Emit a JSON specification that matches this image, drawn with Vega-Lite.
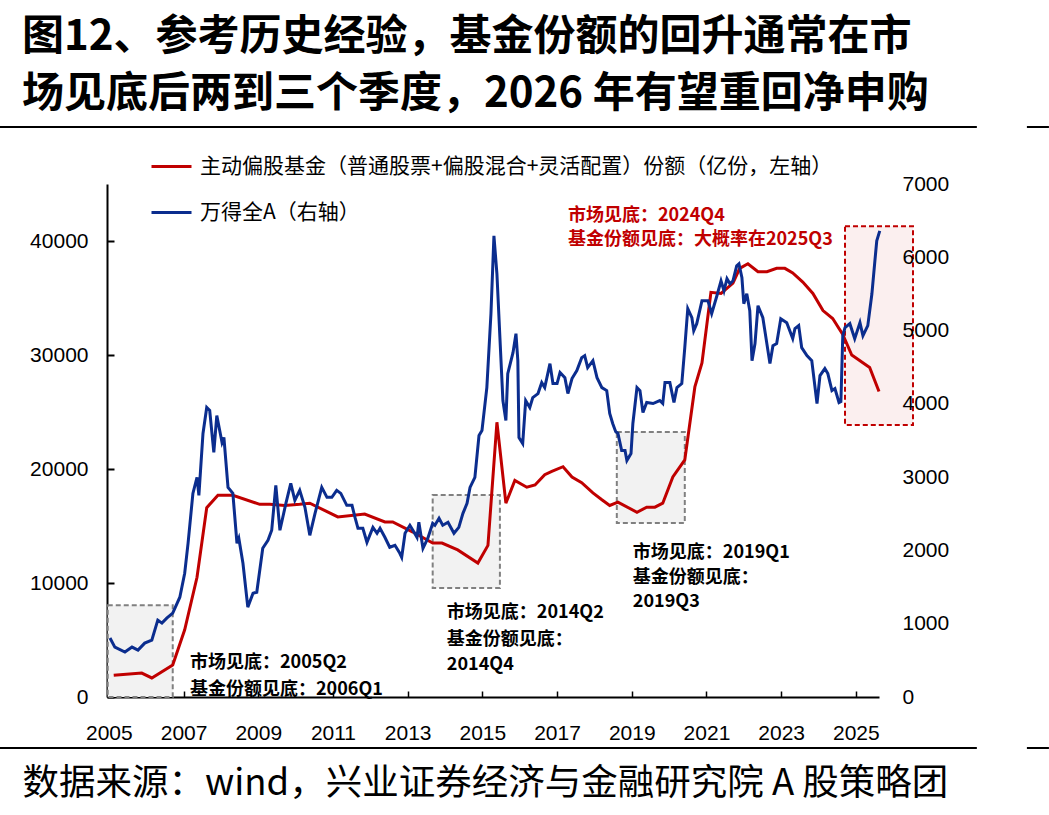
{
  "$schema": "https://vega.github.io/schema/vega-lite/v6.json",
  "width": 772,
  "height": 513,
  "autosize": {"type": "none"},
  "padding": {"left": 107, "top": 184, "right": 170, "bottom": 118},
  "background": "white",
  "config": {
    "view": {"stroke": null},
    "font": "Noto Sans CJK SC",
    "axis": {"grid": false, "labelColor": "black", "labelFont": "Liberation Sans", "labelFontSize": 21, "labelFlush": false, "labelOverlap": false}
  },
  "title": {
    "text": ["图12、参考历史经验，基金份额的回升通常在市", "场见底后两到三个季度，2026 年有望重回净申购"],
    "anchor": "start",
    "frame": "group",
    "font": "Noto Sans CJK SC",
    "fontSize": 42,
    "fontWeight": "bold",
    "lineHeight": 57,
    "color": "black",
    "dx": -85,
    "offset": 10
  },
  "datasets": {
    "fund": [
      {"t": 2005.13, "v": 1900}, {"t": 2005.88, "v": 2100}, {"t": 2006.15, "v": 1670}, {"t": 2006.71, "v": 2800},
      {"t": 2007.03, "v": 5900}, {"t": 2007.36, "v": 10500}, {"t": 2007.62, "v": 16600}, {"t": 2007.92, "v": 17700},
      {"t": 2008.32, "v": 17700}, {"t": 2009.04, "v": 16900}, {"t": 2009.31, "v": 16900}, {"t": 2009.71, "v": 16800},
      {"t": 2010.11, "v": 16900}, {"t": 2010.38, "v": 17000}, {"t": 2011.13, "v": 15800}, {"t": 2011.85, "v": 16050},
      {"t": 2012.39, "v": 15350}, {"t": 2012.6, "v": 15350}, {"t": 2013.14, "v": 14470}, {"t": 2013.67, "v": 13500},
      {"t": 2013.92, "v": 13500}, {"t": 2014.34, "v": 12900}, {"t": 2014.88, "v": 11750}, {"t": 2015.15, "v": 13300},
      {"t": 2015.39, "v": 24100}, {"t": 2015.63, "v": 17000}, {"t": 2015.87, "v": 19000}, {"t": 2016.19, "v": 18400},
      {"t": 2016.41, "v": 18600}, {"t": 2016.67, "v": 19500}, {"t": 2016.86, "v": 19800}, {"t": 2017.16, "v": 20200},
      {"t": 2017.4, "v": 19300}, {"t": 2017.66, "v": 18800}, {"t": 2017.96, "v": 17900}, {"t": 2018.2, "v": 17300},
      {"t": 2018.41, "v": 16800}, {"t": 2018.63, "v": 17100}, {"t": 2019.14, "v": 16200}, {"t": 2019.4, "v": 16650},
      {"t": 2019.62, "v": 16650}, {"t": 2019.83, "v": 17000}, {"t": 2020.1, "v": 19300}, {"t": 2020.42, "v": 20800},
      {"t": 2020.69, "v": 27200}, {"t": 2020.88, "v": 29300}, {"t": 2021.12, "v": 35500}, {"t": 2021.39, "v": 35400},
      {"t": 2021.71, "v": 36300}, {"t": 2021.89, "v": 37600}, {"t": 2022.11, "v": 38000}, {"t": 2022.38, "v": 37300},
      {"t": 2022.62, "v": 37300}, {"t": 2022.88, "v": 37600}, {"t": 2023.1, "v": 37600}, {"t": 2023.31, "v": 37200},
      {"t": 2023.58, "v": 36400}, {"t": 2023.85, "v": 35400}, {"t": 2024.12, "v": 33900}, {"t": 2024.38, "v": 33200},
      {"t": 2024.65, "v": 31800}, {"t": 2024.89, "v": 30000}, {"t": 2025.37, "v": 28900}, {"t": 2025.62, "v": 26800}
    ],
    "wind": [
      {"t": 2005.03, "v": 804}, {"t": 2005.16, "v": 681}, {"t": 2005.43, "v": 613}, {"t": 2005.62, "v": 681},
      {"t": 2005.78, "v": 640}, {"t": 2005.96, "v": 735}, {"t": 2006.15, "v": 776}, {"t": 2006.31, "v": 1049},
      {"t": 2006.42, "v": 1008}, {"t": 2006.55, "v": 1076}, {"t": 2006.71, "v": 1144}, {"t": 2006.9, "v": 1362},
      {"t": 2007.03, "v": 1689}, {"t": 2007.12, "v": 2097}, {"t": 2007.25, "v": 2778}, {"t": 2007.36, "v": 2996},
      {"t": 2007.41, "v": 2751}, {"t": 2007.52, "v": 3596}, {"t": 2007.62, "v": 3950}, {"t": 2007.7, "v": 3909},
      {"t": 2007.81, "v": 3337}, {"t": 2007.89, "v": 3841}, {"t": 2008.03, "v": 3473}, {"t": 2008.08, "v": 3541},
      {"t": 2008.19, "v": 2860}, {"t": 2008.32, "v": 2778}, {"t": 2008.43, "v": 2097}, {"t": 2008.48, "v": 2166},
      {"t": 2008.59, "v": 1825}, {"t": 2008.72, "v": 1226}, {"t": 2008.86, "v": 1416}, {"t": 2008.96, "v": 1430},
      {"t": 2009.12, "v": 2029}, {"t": 2009.26, "v": 2138}, {"t": 2009.36, "v": 2275}, {"t": 2009.47, "v": 2887},
      {"t": 2009.58, "v": 2275}, {"t": 2009.74, "v": 2642}, {"t": 2009.87, "v": 2915}, {"t": 2009.98, "v": 2683},
      {"t": 2010.11, "v": 2819}, {"t": 2010.25, "v": 2588}, {"t": 2010.38, "v": 2206}, {"t": 2010.52, "v": 2506},
      {"t": 2010.7, "v": 2860}, {"t": 2010.84, "v": 2724}, {"t": 2010.97, "v": 2724}, {"t": 2011.1, "v": 2819},
      {"t": 2011.21, "v": 2778}, {"t": 2011.37, "v": 2615}, {"t": 2011.51, "v": 2615}, {"t": 2011.59, "v": 2451},
      {"t": 2011.67, "v": 2302}, {"t": 2011.8, "v": 2302}, {"t": 2011.91, "v": 2111}, {"t": 2012.07, "v": 2315},
      {"t": 2012.18, "v": 2234}, {"t": 2012.26, "v": 2302}, {"t": 2012.39, "v": 2180}, {"t": 2012.52, "v": 2043},
      {"t": 2012.66, "v": 2070}, {"t": 2012.79, "v": 1961}, {"t": 2012.84, "v": 1907}, {"t": 2012.93, "v": 2234},
      {"t": 2013.06, "v": 2343}, {"t": 2013.14, "v": 2275}, {"t": 2013.25, "v": 2179}, {"t": 2013.3, "v": 2384},
      {"t": 2013.41, "v": 2029}, {"t": 2013.54, "v": 2166}, {"t": 2013.67, "v": 2370}, {"t": 2013.73, "v": 2343},
      {"t": 2013.84, "v": 2438}, {"t": 2013.94, "v": 2343}, {"t": 2014.08, "v": 2384}, {"t": 2014.24, "v": 2234},
      {"t": 2014.37, "v": 2315}, {"t": 2014.48, "v": 2506}, {"t": 2014.59, "v": 2642}, {"t": 2014.67, "v": 2860},
      {"t": 2014.8, "v": 2996}, {"t": 2014.91, "v": 3568}, {"t": 2014.99, "v": 3636}, {"t": 2015.12, "v": 4222},
      {"t": 2015.23, "v": 5230}, {"t": 2015.31, "v": 6292}, {"t": 2015.39, "v": 5775}, {"t": 2015.47, "v": 4903},
      {"t": 2015.55, "v": 4045}, {"t": 2015.63, "v": 3773}, {"t": 2015.68, "v": 4413}, {"t": 2015.82, "v": 4699},
      {"t": 2015.9, "v": 4958}, {"t": 2015.95, "v": 4590}, {"t": 2015.98, "v": 3541}, {"t": 2016.08, "v": 3459},
      {"t": 2016.16, "v": 4045}, {"t": 2016.27, "v": 3950}, {"t": 2016.35, "v": 4086}, {"t": 2016.49, "v": 4140},
      {"t": 2016.59, "v": 4290}, {"t": 2016.67, "v": 4222}, {"t": 2016.81, "v": 4549}, {"t": 2016.89, "v": 4277},
      {"t": 2017.0, "v": 4277}, {"t": 2017.08, "v": 4427}, {"t": 2017.21, "v": 4358}, {"t": 2017.29, "v": 4140},
      {"t": 2017.4, "v": 4345}, {"t": 2017.53, "v": 4454}, {"t": 2017.66, "v": 4631}, {"t": 2017.74, "v": 4658},
      {"t": 2017.82, "v": 4495}, {"t": 2017.96, "v": 4590}, {"t": 2018.07, "v": 4358}, {"t": 2018.2, "v": 4222},
      {"t": 2018.33, "v": 4181}, {"t": 2018.41, "v": 3868}, {"t": 2018.49, "v": 3732}, {"t": 2018.57, "v": 3620},
      {"t": 2018.63, "v": 3596}, {"t": 2018.73, "v": 3364}, {"t": 2018.82, "v": 3364}, {"t": 2018.87, "v": 3228},
      {"t": 2018.98, "v": 3323}, {"t": 2019.03, "v": 3732}, {"t": 2019.14, "v": 4222}, {"t": 2019.22, "v": 4181},
      {"t": 2019.3, "v": 3882}, {"t": 2019.4, "v": 4018}, {"t": 2019.57, "v": 4004}, {"t": 2019.75, "v": 4045},
      {"t": 2019.83, "v": 4004}, {"t": 2019.89, "v": 4290}, {"t": 2020.02, "v": 4290}, {"t": 2020.13, "v": 4018},
      {"t": 2020.21, "v": 4222}, {"t": 2020.34, "v": 4277}, {"t": 2020.42, "v": 4767}, {"t": 2020.5, "v": 5298},
      {"t": 2020.61, "v": 5176}, {"t": 2020.66, "v": 4999}, {"t": 2020.74, "v": 5094}, {"t": 2020.88, "v": 5407},
      {"t": 2021.04, "v": 5407}, {"t": 2021.14, "v": 5230}, {"t": 2021.28, "v": 5475}, {"t": 2021.39, "v": 5679},
      {"t": 2021.47, "v": 5543}, {"t": 2021.55, "v": 5707}, {"t": 2021.63, "v": 5639}, {"t": 2021.71, "v": 5679},
      {"t": 2021.81, "v": 5884}, {"t": 2021.87, "v": 5911}, {"t": 2021.95, "v": 5720}, {"t": 2022.0, "v": 5366},
      {"t": 2022.08, "v": 5502}, {"t": 2022.16, "v": 5271}, {"t": 2022.22, "v": 4590}, {"t": 2022.3, "v": 4822},
      {"t": 2022.38, "v": 5339}, {"t": 2022.51, "v": 5176}, {"t": 2022.7, "v": 4549}, {"t": 2022.78, "v": 4794},
      {"t": 2022.88, "v": 4822}, {"t": 2022.99, "v": 5162}, {"t": 2023.15, "v": 5108}, {"t": 2023.31, "v": 4890},
      {"t": 2023.37, "v": 5026}, {"t": 2023.47, "v": 5067}, {"t": 2023.55, "v": 4767}, {"t": 2023.69, "v": 4658},
      {"t": 2023.82, "v": 4590}, {"t": 2023.96, "v": 4004}, {"t": 2024.04, "v": 4386}, {"t": 2024.17, "v": 4481},
      {"t": 2024.25, "v": 4413}, {"t": 2024.36, "v": 4181}, {"t": 2024.44, "v": 4209}, {"t": 2024.55, "v": 4018},
      {"t": 2024.6, "v": 4030}, {"t": 2024.65, "v": 4930}, {"t": 2024.71, "v": 5039}, {"t": 2024.84, "v": 5094},
      {"t": 2024.97, "v": 4890}, {"t": 2025.11, "v": 5108}, {"t": 2025.19, "v": 4930}, {"t": 2025.32, "v": 5067},
      {"t": 2025.43, "v": 5502}, {"t": 2025.51, "v": 5952}, {"t": 2025.56, "v": 6224}, {"t": 2025.64, "v": 6361}
    ],
    "boxes": [
      {"kind": "gray", "t": 2004.97, "t2": 2006.71, "v": 0, "v2": 8050},
      {"kind": "gray", "t": 2013.67, "t2": 2015.47, "v": 9560, "v2": 17720},
      {"kind": "gray", "t": 2018.6, "t2": 2020.42, "v": 15260, "v2": 23250},
      {"kind": "red", "t": 2024.71, "t2": 2026.53, "v": 23860, "v2": 41300}
    ],
    "notes": [
      {"kind": "black", "t": 2007.17, "v": 2980, "label": "市场见底：2005Q2"},
      {"kind": "black", "t": 2007.17, "v": 614, "label": "基金份额见底：2006Q1"},
      {"kind": "black", "t": 2014.05, "v": 7370, "label": "市场见底：2014Q2"},
      {"kind": "black", "t": 2014.05, "v": 5000, "label": "基金份额见底："},
      {"kind": "black", "t": 2014.05, "v": 2810, "label": "2014Q4"},
      {"kind": "black", "t": 2019.03, "v": 12630, "label": "市场见底：2019Q1"},
      {"kind": "black", "t": 2019.03, "v": 10440, "label": "基金份额见底："},
      {"kind": "black", "t": 2019.03, "v": 8330, "label": "2019Q3"},
      {"kind": "red", "t": 2017.29, "v": 42190, "label": "市场见底：2024Q4"},
      {"kind": "red", "t": 2017.29, "v": 40090, "label": "基金份额见底：大概率在2025Q3"}
    ]
  },
  "layer": [
    {
      "layer": [
        {
          "data": {"name": "boxes"},
          "transform": [{"filter": "datum.kind == 'gray'"}],
          "mark": {"type": "rect", "fill": "#F2F2F2", "stroke": "#808080", "strokeDash": [5, 3], "strokeWidth": 2},
          "encoding": {
            "x": {
              "field": "t", "type": "quantitative",
              "scale": {"domain": [2004.95, 2025.62], "nice": false, "zero": false},
              "axis": {
                "values": [2005, 2007, 2009, 2011, 2013, 2015, 2017, 2019, 2021, 2023, 2025],
                "format": "d",
                "domainColor": "black", "domainWidth": 2,
                "tickColor": "black", "tickSize": -6, "tickWidth": 1.5,
                "labelPadding": 31,
                "title": "数据来源：wind，兴业证券经济与金融研究院 A 股策略团",
                "titleFont": "Noto Sans CJK SC", "titleFontSize": 36.5, "titleFontWeight": "normal",
                "titleColor": "black", "titleAnchor": "start", "titleAlign": "left",
                "titleX": -85, "titleY": 86, "titleBaseline": "middle"
              }
            },
            "x2": {"field": "t2"},
            "y": {
              "field": "v", "type": "quantitative",
              "scale": {"domain": [0, 45000], "nice": false},
              "axis": {
                "values": [0, 10000, 20000, 30000, 40000],
                "format": "d", "title": null,
                "domainColor": "black", "domainWidth": 2,
                "tickColor": "black", "tickSize": -7, "tickWidth": 2,
                "labelPadding": 26
              }
            },
            "y2": {"field": "v2"}
          }
        },
        {
          "data": {"name": "boxes"},
          "transform": [{"filter": "datum.kind == 'red'"}],
          "mark": {"type": "rect", "fill": "#FBEFEF", "stroke": "#C00000", "strokeDash": [5, 3], "strokeWidth": 2},
          "encoding": {
            "x": {"field": "t", "type": "quantitative"},
            "x2": {"field": "t2"},
            "y": {"field": "v", "type": "quantitative"},
            "y2": {"field": "v2"}
          }
        },
        {
          "data": {"values": [{}]},
          "mark": {"type": "rule", "color": "black", "strokeWidth": 2},
          "encoding": {
            "x": {"datum": 2002.085, "type": "quantitative"},
            "x2": {"datum": 2028.24},
            "y": {"datum": 50000, "type": "quantitative"}
          }
        },
        {
          "data": {"values": [{}]},
          "mark": {"type": "rule", "color": "black", "strokeWidth": 2},
          "encoding": {
            "x": {"datum": 2029.58, "type": "quantitative"},
            "x2": {"datum": 2030.17},
            "y": {"datum": 50000, "type": "quantitative"}
          }
        },
        {
          "data": {"values": [{}]},
          "mark": {"type": "rule", "color": "black", "strokeWidth": 2},
          "encoding": {
            "x": {"datum": 2002.085, "type": "quantitative"},
            "x2": {"datum": 2028.24},
            "y": {"datum": -4474, "type": "quantitative"}
          }
        },
        {
          "data": {"values": [{}]},
          "mark": {"type": "rule", "color": "black", "strokeWidth": 2},
          "encoding": {
            "x": {"datum": 2029.58, "type": "quantitative"},
            "x2": {"datum": 2030.17},
            "y": {"datum": -4474, "type": "quantitative"}
          }
        },
        {
          "data": {"name": "fund"},
          "mark": {"type": "line", "strokeWidth": 3},
          "encoding": {
            "x": {"field": "t", "type": "quantitative"},
            "y": {"field": "v", "type": "quantitative"},
            "color": {
              "datum": "主动偏股基金（普通股票+偏股混合+灵活配置）份额（亿份，左轴）",
              "type": "nominal",
              "scale": {
                "domain": ["主动偏股基金（普通股票+偏股混合+灵活配置）份额（亿份，左轴）", "万得全A（右轴）"],
                "range": ["#C00000", "#0B2D8E"]
              },
              "legend": {
                "orient": "none", "legendX": 43, "legendY": -39, "title": null,
                "symbolType": "stroke", "symbolSize": 1600, "symbolStrokeWidth": 3,
                "labelFont": "Noto Sans CJK SC", "labelFontSize": 21, "labelColor": "black",
                "labelLimit": 0, "labelOffset": 7, "rowPadding": 14, "padding": 0
              }
            }
          }
        },
        {
          "data": {"name": "notes"},
          "transform": [{"filter": "datum.kind == 'black'"}],
          "mark": {"type": "text", "align": "left", "baseline": "middle", "font": "Noto Sans CJK SC", "fontSize": 18, "fontWeight": "bold", "color": "black"},
          "encoding": {
            "x": {"field": "t", "type": "quantitative"},
            "y": {"field": "v", "type": "quantitative"},
            "text": {"field": "label"}
          }
        },
        {
          "data": {"name": "notes"},
          "transform": [{"filter": "datum.kind == 'red'"}],
          "mark": {"type": "text", "align": "left", "baseline": "middle", "font": "Noto Sans CJK SC", "fontSize": 18, "fontWeight": "bold", "color": "#C00000"},
          "encoding": {
            "x": {"field": "t", "type": "quantitative"},
            "y": {"field": "v", "type": "quantitative"},
            "text": {"field": "label"}
          }
        }
      ]
    },
    {
      "data": {"name": "wind"},
      "mark": {"type": "line", "strokeWidth": 3},
      "encoding": {
        "x": {"field": "t", "type": "quantitative"},
        "y": {
          "field": "v", "type": "quantitative",
          "scale": {"domain": [0, 7000], "nice": false},
          "axis": {
            "orient": "right",
            "values": [0, 1000, 2000, 3000, 4000, 5000, 6000, 7000],
            "format": "d", "title": null,
            "domain": false, "ticks": false, "labelPadding": 23, "zindex": 2
          }
        },
        "color": {"datum": "万得全A（右轴）", "type": "nominal"}
      }
    }
  ],
  "resolve": {"scale": {"y": "independent"}}
}
